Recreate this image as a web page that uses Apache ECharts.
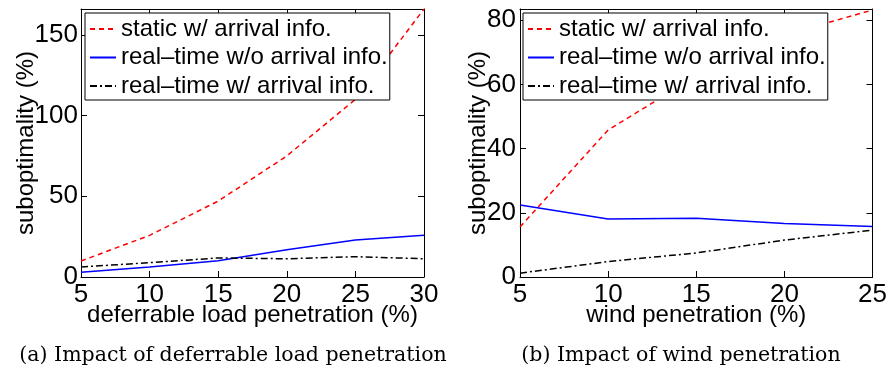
<!DOCTYPE html>
<html>
<head>
    <meta charset="utf-8">
    <title>Suboptimality vs penetration</title>
    <script src="https://cdn.jsdelivr.net/npm/echarts@6/dist/echarts.min.js"></script>
    <style>
        html, body { margin: 0; padding: 0; background: #fff; }
        #chart { width: 890px; height: 366px; }
    </style>
</head>
<body>
    <div id="chart"></div>
    <script>
        const seriesNames = ['static w/ arrival info.', 'real\u2013time w/o arrival info.', 'real\u2013time w/ arrival info.'];

        // (a) deferrable load penetration
        const loadX = [5, 10, 15, 20, 25, 30];
        const loadStatic = [9.9, 25.8, 47, 75, 110, 166];
        const loadRtNoInfo = [2.9, 6.2, 10, 16.9, 22.9, 25.8];
        const loadRtInfo = [6.2, 8.9, 11.8, 11.3, 12.6, 11.3];

        // (b) wind penetration
        const windX = [5, 10, 15, 20, 25];
        const windStatic = [15.6, 45.8, 62.6, 75.4, 83.2];
        const windRtNoInfo = [22.4, 18.1, 18.3, 16.7, 15.7];
        const windRtInfo = [1.2, 4.8, 7.5, 11.5, 14.6];

        const captions = ['(a) Impact of deferrable load penetration', '(b) Impact of wind penetration'];

        const sans = 'Liberation Sans, Arial, Helvetica, sans-serif';
        const styles = [
            { color: '#ff0000', type: [5, 4] },
            { color: '#0000ff', type: 'solid' },
            { color: '#000000', type: [7, 3, 2, 3] }
        ];

        function pairs(xs, ys) {
            return xs.map((x, i) => [x, ys[i]]);
        }

        const grids = [
            { left: 81, right: 466, top: 9, bottom: 89 },
            { left: 520, right: 14, top: 9, bottom: 89 }
        ];

        const panels = [
            { x: loadX, ys: [loadStatic, loadRtNoInfo, loadRtInfo], xmax: 30, ymax: 166, yint: 50, xname: 'deferrable load penetration (%)', legendLeft: 85, yMargin: 3, yNameGap: 43 },
            { x: windX, ys: [windStatic, windRtNoInfo, windRtInfo], xmax: 25, ymax: 83.5, yint: 20, xname: 'wind penetration (%)', legendLeft: 523, yMargin: 4, yNameGap: 30 }
        ];

        const xAxes = [], yAxes = [], series = [], legends = [];

        panels.forEach((p, gi) => {
            const tickCommon = { inside: true, length: 6, lineStyle: { color: '#000', width: 1 } };
            const lineCommon = { show: true, onZero: false, lineStyle: { color: '#000', width: 1 } };
            xAxes.push({
                type: 'value', gridIndex: gi, min: 5, max: p.xmax, interval: 5,
                position: 'bottom',
                axisLine: lineCommon, axisTick: tickCommon, splitLine: { show: false },
                axisLabel: { color: '#000', fontFamily: sans, fontSize: 26, margin: 5 },
                name: p.xname, nameLocation: 'middle', nameGap: 26, nameMoveOverlap: false,
                nameTextStyle: { color: '#000', fontFamily: sans, fontSize: 24 }
            });
            xAxes.push({
                type: 'value', gridIndex: gi, min: 5, max: p.xmax, interval: 5,
                position: 'top',
                axisLine: lineCommon, axisTick: tickCommon, splitLine: { show: false },
                axisLabel: { show: false }
            });
            yAxes.push({
                type: 'value', gridIndex: gi, min: 0, max: p.ymax, interval: p.yint,
                position: 'left',
                axisLine: lineCommon, axisTick: tickCommon, splitLine: { show: false },
                axisLabel: {
                    color: '#000', fontFamily: sans, fontSize: 26, margin: p.yMargin,
                    formatter: v => (v % p.yint === 0 ? String(v) : '')
                },
                name: 'suboptimality (%)', nameLocation: 'middle', nameGap: p.yNameGap, nameMoveOverlap: false,
                nameTextStyle: { color: '#000', fontFamily: sans, fontSize: 24 }
            });
            yAxes.push({
                type: 'value', gridIndex: gi, min: 0, max: p.ymax, interval: p.yint,
                position: 'right',
                axisLine: lineCommon, axisTick: tickCommon, splitLine: { show: false },
                axisLabel: { show: false }
            });

            p.ys.forEach((ys, si) => {
                series.push({
                    name: seriesNames[si],
                    type: 'line',
                    xAxisIndex: gi * 2,
                    yAxisIndex: gi * 2,
                    data: pairs(p.x, ys),
                    symbol: 'none',
                    smooth: false,
                    animation: false,
                    z: si === 0 ? 1 : 2,
                    lineStyle: { color: styles[si].color, width: 1.5, type: styles[si].type },
                    itemStyle: { color: styles[si].color }
                });
            });

            legends.push({
                left: p.legendLeft,
                top: 13,
                orient: 'vertical',
                backgroundColor: '#fff',
                borderColor: '#000',
                borderWidth: 1,
                borderRadius: 0,
                padding: [4, 2, 2, 4],
                itemGap: 4.5,
                itemWidth: 26,
                itemHeight: 14,
                selectedMode: false,
                data: seriesNames,
                itemStyle: { color: 'transparent', borderWidth: 0 },
                textStyle: { color: '#000', fontFamily: sans, fontSize: 24, lineHeight: 24 },
                z: 10
            });
        });

        const chart = echarts.init(document.getElementById('chart'));
        chart.setOption({
            animation: false,
            backgroundColor: '#fff',
            grid: grids,
            xAxis: xAxes,
            yAxis: yAxes,
            legend: legends,
            series: series,
            title: [
                {
                    text: captions[0], left: 228, top: 340, textAlign: 'center',
                    textStyle: { color: '#000', fontFamily: 'DejaVu Serif, serif', fontWeight: 'normal', fontSize: 20.5 }
                },
                {
                    text: captions[1], left: 676, top: 340, textAlign: 'center',
                    textStyle: { color: '#000', fontFamily: 'DejaVu Serif, serif', fontWeight: 'normal', fontSize: 20.5 }
                }
            ]
        });
    </script>
</body>
</html>
